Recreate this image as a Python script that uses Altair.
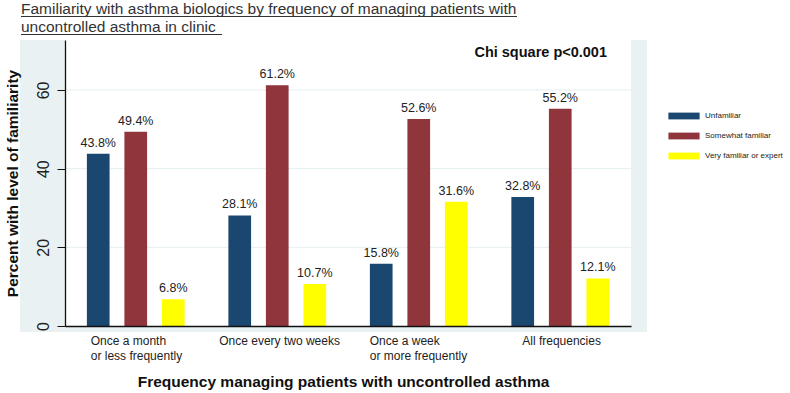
import altair as alt
import pandas as pd

# ---- data ----
groups = ["Once a month|or less frequently", "Once every two weeks",
          "Once a week|or more frequently", "All frequencies"]
levels = ["Unfamiliar", "Somewhat familiar", "Very familiar or expert"]
unfamiliar = [43.8, 28.1, 15.8, 32.8]
somewhat = [49.4, 61.2, 52.6, 55.2]
very = [6.8, 10.7, 31.6, 12.1]
colors = ["#1a476f", "#90353b", "#ffff00"]
y_ticks = [0, 20, 40, 60]
grid_values = [20, 40, 60]
annotation = ["Chi square p<0.001"]
title_lines = ["Familiarity with asthma biologics by frequency of managing patients with",
               "uncontrolled asthma in clinic"]

rows = []
for i, g in enumerate(groups):
    for lev, vals in zip(levels, [unfamiliar, somewhat, very]):
        rows.append({"group": g, "level": lev, "value": vals[i],
                     "label": f"{vals[i]:.1f}%"})
df = pd.DataFrame(rows)

W, H = 566, 286
YMAX = 72.7
FONT = "Liberation Sans"

x_enc = alt.X("group:N", sort=groups,
              scale=alt.Scale(paddingInner=0, paddingOuter=0),
              title="Frequency managing patients with uncontrolled asthma",
              axis=alt.Axis(labelExpr="split(datum.label, '|')", labelAngle=0,
                            ticks=False, domainColor="#111", domainWidth=1.3,
                            labelFont=FONT, labelFontSize=12, labelColor="#222",
                            labelLineHeight=15, labelPadding=9,
                            labelAlign="left",
                            labelOffset=alt.expr(
                                "datum.index < 0.2 ? -45 : datum.index < 0.5 ? -58 : datum.index < 0.8 ? -49 : -38"),
                            titleFont=FONT, titleFontSize=15.5, titleFontWeight="bold",
                            titleColor="#111", titlePadding=13, titleX=278,
                            zindex=1))
xo_enc = alt.XOffset("level:N", sort=levels,
                     scale=alt.Scale(paddingInner=0.395, paddingOuter=0.583))
y_enc = alt.Y("value:Q",
              scale=alt.Scale(domain=[0, YMAX], nice=False, zero=True),
              title="Percent with level of familiarity",
              axis=alt.Axis(values=y_ticks, grid=False, labelAngle=270,
                            labelAlign="center", labelBaseline="bottom",
                            labelFont=FONT, labelFontSize=16, labelColor="#222",
                            labelPadding=6, tickSize=8, tickColor="#111",
                            domainColor="#111", domainWidth=1.3,
                            titleFont=FONT, titleFontSize=15.5, titleFontWeight="bold",
                            titleColor="#111", titlePadding=15, zindex=1))

rect_path = "M-3.9,-0.85H3.9V0.85H-3.9Z"
color_enc = alt.Color("level:N", sort=levels,
                      scale=alt.Scale(domain=levels, range=colors),
                      legend=alt.Legend(orient="none", legendX=615, legendY=72,
                                        title=None, symbolType=rect_path,
                                        symbolSize=64, symbolStrokeWidth=0,
                                        symbolOpacity=1,
                                        labelFont=FONT, labelFontSize=8,
                                        labelColor="#222", labelOffset=17,
                                        rowPadding=12))

one = alt.Data(values=[{"a": 1}])

outer_bg = alt.Chart(one).mark_rect(color="#e9f1f3").encode(
    x=alt.value(-45), x2=alt.value(W + 16), y=alt.value(0), y2=alt.value(H + 6))
inner_bg = alt.Chart(one).mark_rect(color="white").encode(
    x=alt.value(0), x2=alt.value(W), y=alt.value(0), y2=alt.value(H))

grid = alt.Chart(pd.DataFrame({"value": grid_values})).mark_rule(
    color="#e4eef0", strokeWidth=1).encode(y=y_enc)

bars = alt.Chart(df).mark_bar().encode(
    x=x_enc, xOffset=xo_enc, y=y_enc, color=color_enc)

labels = alt.Chart(df).mark_text(baseline="bottom", dy=-4, font=FONT,
                                 fontSize=12.5, color="#222").encode(
    x=x_enc, xOffset=xo_enc, y=y_enc, text="label:N")

chi = alt.Chart(pd.DataFrame({"t": annotation})).mark_text(
    align="right", baseline="middle", font=FONT, fontSize=14.5,
    fontWeight="bold", color="#111").encode(
    x=alt.value(W - 24), y=alt.value(13), text="t:N")

title_txt = alt.Chart(pd.DataFrame({"t": ["\n".join(title_lines)]})).mark_text(
    align="left", baseline="alphabetic", lineBreak="\n", lineHeight=18,
    font=FONT, fontSize=15.5, color="#333").encode(
    x=alt.value(-44), y=alt.value(-26), text="t:N")

ul1 = alt.Chart(one).mark_rule(color="#333", strokeWidth=1).encode(
    x=alt.value(-44), x2=alt.value(452), y=alt.value(-23.5))
ul2 = alt.Chart(one).mark_rule(color="#333", strokeWidth=1).encode(
    x=alt.value(-44), x2=alt.value(157), y=alt.value(-5.5))

chart = alt.layer(outer_bg, inner_bg, grid, bars, labels, chi,
                  title_txt, ul1, ul2).properties(
    width=W, height=H,
    autosize=alt.AutoSizeParams(type="none"),
    padding={"left": 65, "top": 40, "right": 159, "bottom": 67},
).configure_view(stroke=None).configure(background="white")

chart.save("out.html", embed_options={"renderer": "svg", "actions": False})
